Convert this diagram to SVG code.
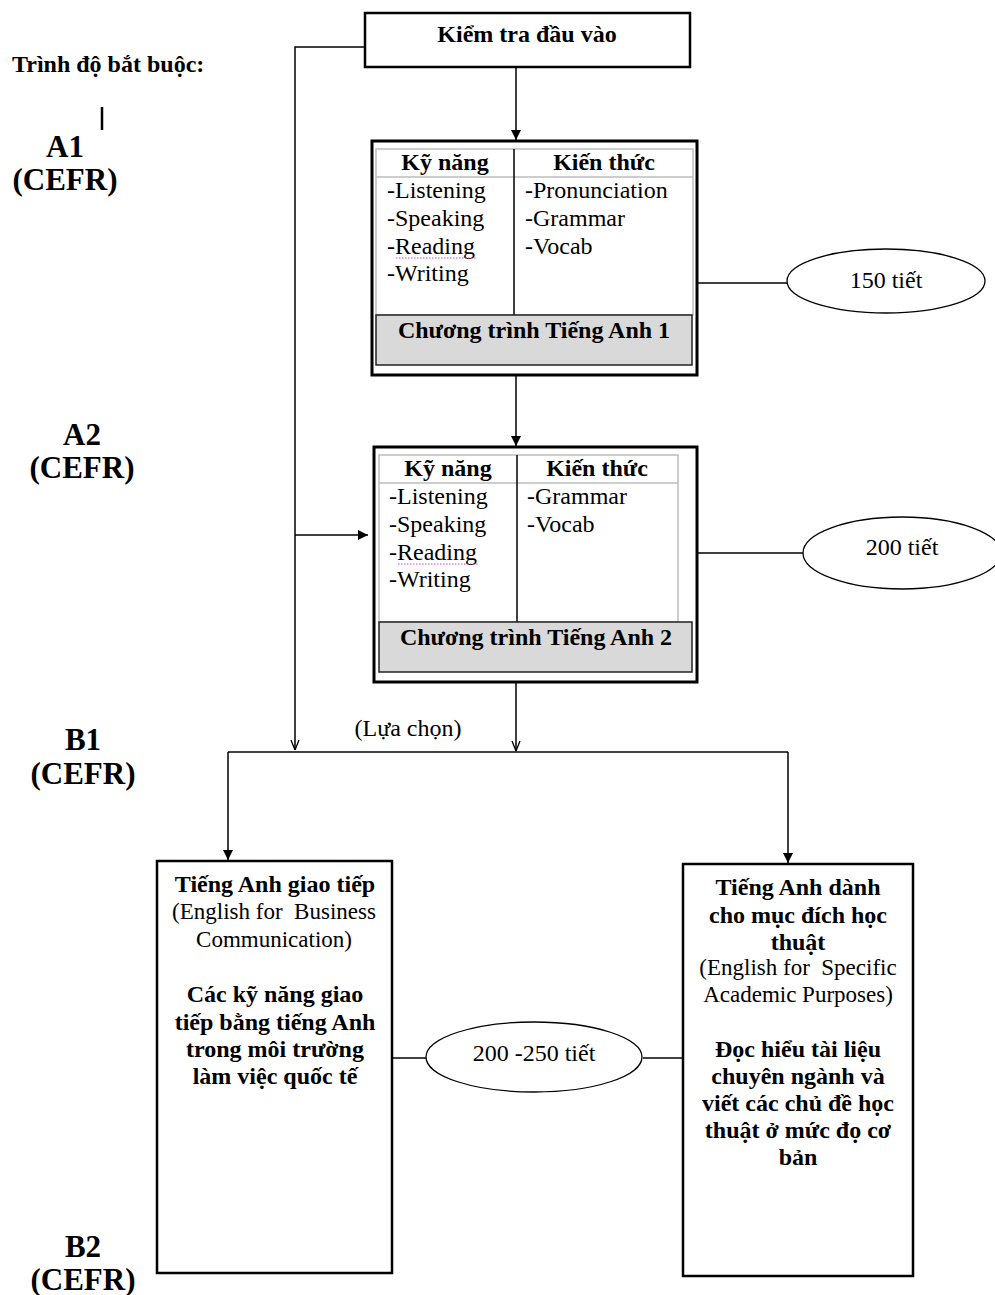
<svg xmlns="http://www.w3.org/2000/svg" width="995" height="1295" viewBox="0 0 995 1295">
<style>
text{font-family:"Liberation Serif","Times New Roman",serif;fill:#000;}
.b{font-weight:bold;font-size:24px;}
.r{font-size:24px;}
.p{font-size:23px;}
.lv{font-weight:bold;font-size:31px;text-anchor:middle;}
.c{text-anchor:middle;}
.box{fill:#fff;stroke:#000;stroke-width:2.5;}
.outer{fill:#fff;stroke:#000;stroke-width:3;}
.grid{fill:none;stroke:#bdbdbd;stroke-width:1.5;}
.div{stroke:#000;stroke-width:1.5;}
.gray{fill:#d9d9d9;stroke:#222;stroke-width:1.5;}
.ell{fill:#fff;stroke:#000;stroke-width:1.3;}
.ln{fill:none;stroke:#000;stroke-width:1.5;}
.sp{stroke:#d040d0;stroke-width:1;stroke-dasharray:1.5 1.5;}
</style>
<defs>
<marker id="ah" viewBox="0 0 10 10" refX="10" refY="5" markerWidth="10" markerHeight="10" markerUnits="userSpaceOnUse" orient="auto">
<path d="M0,0 L10,5 L0,10 Z" fill="#000"/>
</marker>
<marker id="ao" viewBox="0 0 10 10" refX="10" refY="5" markerWidth="10" markerHeight="10" markerUnits="userSpaceOnUse" orient="auto">
<path d="M0,1 L10,5 L0,9" fill="none" stroke="#000" stroke-width="1.3"/>
</marker>
</defs>
<rect width="995" height="1295" fill="#fff"/>

<g id="labels">
<text class="b" x="12" y="72">Trình độ bắt buộc:</text>
<line x1="102" y1="107" x2="102" y2="130" stroke="#000" stroke-width="2.5"/>
<text class="lv" x="65" y="157">A1</text>
<text class="lv" x="65" y="190">(CEFR)</text>
<text class="lv" x="82" y="445">A2</text>
<text class="lv" x="82" y="478">(CEFR)</text>
<text class="lv" x="83" y="750">B1</text>
<text class="lv" x="83" y="784">(CEFR)</text>
<text class="lv" x="83" y="1257">B2</text>
<text class="lv" x="83" y="1290">(CEFR)</text>
</g>

<g id="connectors">
<polyline class="ln" points="365,47 295,47 295,750" marker-end="url(#ao)"/>
<line class="ln" x1="295" y1="535" x2="368" y2="535" marker-end="url(#ah)"/>
<line class="ln" x1="516" y1="67" x2="516" y2="140" marker-end="url(#ah)"/>
<line class="ln" x1="516" y1="375" x2="516" y2="446" marker-end="url(#ah)"/>
<line class="ln" x1="516" y1="682" x2="516" y2="751" marker-end="url(#ao)"/>
<line class="ln" x1="228" y1="752" x2="788" y2="752"/>
<line class="ln" x1="228" y1="752" x2="228" y2="860" marker-end="url(#ah)"/>
<line class="ln" x1="788" y1="752" x2="788" y2="863" marker-end="url(#ah)"/>
<line class="ln" x1="697" y1="283" x2="787" y2="283"/>
<line class="ln" x1="697" y1="553" x2="803" y2="553"/>
<line class="ln" x1="392" y1="1058" x2="426" y2="1058"/>
<line class="ln" x1="643" y1="1058" x2="683" y2="1058"/>
<text class="r c" x="408" y="736">(Lựa chọn)</text>
</g>

<g id="entry-test">
<rect class="box" x="365" y="13" width="325" height="54"/>
<text class="b c" x="527" y="42">Kiểm tra đầu vào</text>
</g>

<g id="program-1">
<rect class="outer" x="372" y="141" width="325" height="234"/>
<rect class="grid" x="376" y="149" width="317" height="166"/>
<line class="grid" x1="376" y1="177" x2="693" y2="177"/>
<line class="div" x1="514" y1="149" x2="514" y2="315"/>
<rect class="gray" x="376" y="315" width="316" height="50"/>
<text class="b c" x="445" y="170">Kỹ năng</text>
<text class="b c" x="604" y="170">Kiến thức</text>
<text class="r" x="387" y="198">-Listening</text>
<text class="r" x="387" y="226">-Speaking</text>
<text class="r" x="387" y="254">-Reading</text>
<line class="sp" x1="396" y1="258" x2="477" y2="258"/>
<text class="r" x="387" y="281">-Writing</text>
<text class="r" x="525" y="198">-Pronunciation</text>
<text class="r" x="525" y="226">-Grammar</text>
<text class="r" x="525" y="254">-Vocab</text>
<text class="b c" x="534" y="338">Chương trình Tiếng Anh 1</text>
</g>

<g id="program-2">
<rect class="outer" x="374" y="447" width="323" height="235"/>
<rect class="grid" x="379" y="455" width="299" height="167"/>
<line class="grid" x1="379" y1="483" x2="678" y2="483"/>
<line class="div" x1="517" y1="455" x2="517" y2="622"/>
<rect class="gray" x="379" y="622" width="313" height="50"/>
<text class="b c" x="448" y="476">Kỹ năng</text>
<text class="b c" x="597" y="476">Kiến thức</text>
<text class="r" x="389" y="504">-Listening</text>
<text class="r" x="389" y="532">-Speaking</text>
<text class="r" x="389" y="560">-Reading</text>
<line class="sp" x1="398" y1="564" x2="479" y2="564"/>
<text class="r" x="389" y="587">-Writing</text>
<text class="r" x="527" y="504">-Grammar</text>
<text class="r" x="527" y="532">-Vocab</text>
<text class="b c" x="536" y="645">Chương trình Tiếng Anh 2</text>
</g>

<g id="hours-150">
<ellipse class="ell" cx="886" cy="281" rx="99" ry="32"/>
<text class="r c" x="886" y="288">150 tiết</text>
</g>

<g id="hours-200">
<ellipse class="ell" cx="902" cy="553" rx="99" ry="36"/>
<text class="r c" x="902" y="555">200 tiết</text>
</g>

<g id="business-english">
<rect class="box" x="157" y="861" width="235" height="412"/>
<text class="b c" x="275" y="892">Tiếng Anh giao tiếp</text>
<text class="p c" x="274" y="919">(English for&#160; Business</text>
<text class="p c" x="274" y="947">Communication)</text>
<text class="b c" x="275" y="1002">Các kỹ năng giao</text>
<text class="b c" x="275" y="1030">tiếp bằng tiếng Anh</text>
<text class="b c" x="275" y="1057">trong môi trường</text>
<text class="b c" x="275" y="1084">làm việc quốc tế</text>
</g>

<g id="hours-200-250">
<ellipse class="ell" cx="534" cy="1057" rx="108" ry="35"/>
<text class="r c" x="534" y="1061">200 -250 tiết</text>
</g>

<g id="academic-english">
<rect class="box" x="683" y="864" width="230" height="412"/>
<text class="b c" x="798" y="895">Tiếng Anh dành</text>
<text class="b c" x="798" y="923">cho mục đích học</text>
<text class="b c" x="798" y="950">thuật</text>
<text class="p c" x="798" y="975">(English for&#160; Specific</text>
<text class="p c" x="798" y="1002">Academic Purposes)</text>
<text class="b c" x="798" y="1057">Đọc hiểu tài liệu</text>
<text class="b c" x="798" y="1084">chuyên ngành và</text>
<text class="b c" x="798" y="1111">viết các chủ đề học</text>
<text class="b c" x="798" y="1138">thuật ở mức đọ cơ</text>
<text class="b c" x="798" y="1165">bản</text>
</g>
</svg>
